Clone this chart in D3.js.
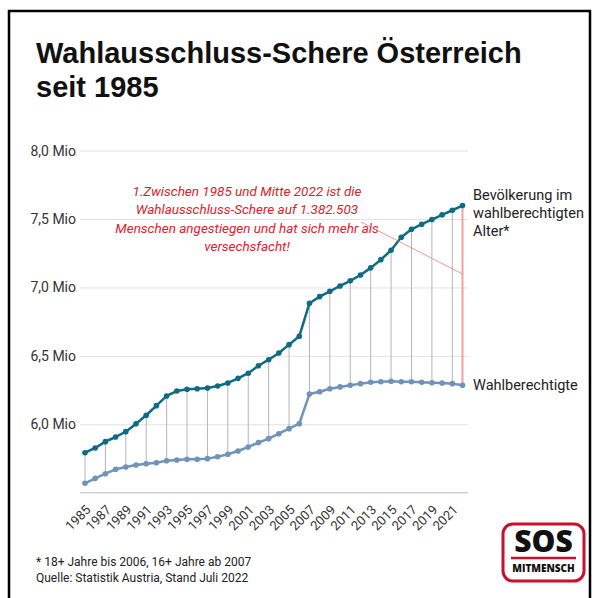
<!DOCTYPE html>
<html>
<head>
<meta charset="utf-8">
<script src="https://cdn.jsdelivr.net/npm/d3@7"></script>
<style>
  body { margin: 0; background: #fff; }
  text { font-family: Roboto, "Noto Sans", sans-serif; }
</style>
</head>
<body>
<div id="chart"></div>
<script>
// years 1985 - 2022
var years = d3.range(1985, 2023);

// Bevölkerung im wahlberechtigten Alter (Mio)
var population = [5.792, 5.827, 5.873, 5.907, 5.946, 6.004, 6.066, 6.136, 6.207, 6.243,
  6.256, 6.260, 6.265, 6.280, 6.302, 6.336, 6.373, 6.428, 6.472, 6.521,
  6.582, 6.643, 6.885, 6.933, 6.972, 7.011, 7.048, 7.091, 7.143, 7.203,
  7.272, 7.367, 7.425, 7.462, 7.496, 7.530, 7.564, 7.598];

// Wahlberechtigte (Mio)
var voters = [5.569, 5.605, 5.639, 5.671, 5.688, 5.702, 5.712, 5.719, 5.734, 5.739,
  5.744, 5.744, 5.749, 5.763, 5.781, 5.805, 5.834, 5.866, 5.895, 5.931,
  5.968, 6.004, 6.221, 6.238, 6.260, 6.273, 6.285, 6.297, 6.307, 6.311,
  6.314, 6.311, 6.311, 6.307, 6.304, 6.302, 6.297, 6.285];

var yTicks = [6.0, 6.5, 7.0, 7.5, 8.0];
var xTickYears = d3.range(1985, 2022, 2);

var annotationLines = [
  "1.Zwischen 1985 und Mitte 2022 ist die",
  "Wahlausschluss-Schere auf 1.382.503",
  "Menschen angestiegen und hat sich mehr als",
  "versechsfacht!"
];
var footnotes = [
  "* 18+ Jahre bis 2006, 16+ Jahre ab 2007",
  "Quelle: Statistik Austria, Stand Juli 2022"
];

var W = 595, H = 598;
var svg = d3.select("#chart").append("svg")
  .attr("width", W)
  .attr("height", H);

svg.append("rect").attr("width", W).attr("height", H).attr("fill", "#fff");

// frame
svg.append("path")
  .attr("d", "M9,598 V11 H590 V598")
  .attr("fill", "none")
  .attr("stroke", "#000")
  .attr("stroke-width", 2.5);

// title
var title = svg.append("text")
  .attr("x", 36)
  .attr("y", 63)
  .style("font-family", "'Liberation Sans', Arial, sans-serif")
  .style("font-weight", "bold")
  .style("font-size", "29px")
  .attr("fill", "#111");
title.append("tspan").attr("x", 36).text("Wahlausschluss-Schere Österreich");
title.append("tspan").attr("x", 36).attr("dy", 34).text("seit 1985");

// scales
var x = d3.scaleLinear().domain([1985, 2022]).range([85, 462.5]);
var y = d3.scaleLinear().domain([5.5, 8.0]).range([492.7, 150.6]);
var fmt = function (d) { return d3.format(".1f")(d).replace(".", ",") + " Mio"; };

// grid
var yAxis = svg.append("g")
  .attr("transform", "translate(80,0)")
  .call(d3.axisLeft(y).tickValues(yTicks).tickSize(-388).tickFormat(fmt));
yAxis.select(".domain").remove();
yAxis.selectAll(".tick line").attr("stroke", "#e2e2e2");
yAxis.selectAll(".tick text")
  .attr("x", -4)
  .attr("fill", "#333")
  .style("font-size", "14px");

// baseline
svg.append("line")
  .attr("x1", 80).attr("x2", 468)
  .attr("y1", y(5.5)).attr("y2", y(5.5))
  .attr("stroke", "#d0d0d0")
  .attr("stroke-width", 1.5);

// x labels
var xAxis = svg.append("g")
  .attr("transform", "translate(0," + y(5.5) + ")")
  .call(d3.axisBottom(x).tickValues(xTickYears).tickSize(0).tickFormat(d3.format("d")));
xAxis.select(".domain").remove();
xAxis.selectAll(".tick text")
  .attr("text-anchor", "end")
  .attr("fill", "#333")
  .style("font-size", "13px")
  .attr("dy", 0)
  .attr("y", 0)
  .attr("transform", "translate(6,18) rotate(-45)");

// connector lines (every 2 years)
svg.append("g")
  .selectAll("line")
  .data(xTickYears)
  .enter()
  .append("line")
  .attr("x1", function (d) { return x(d); })
  .attr("x2", function (d) { return x(d); })
  .attr("y1", function (d) { return y(population[d - 1985]); })
  .attr("y2", function (d) { return y(voters[d - 1985]); })
  .attr("stroke", "#b5b5b5")
  .attr("stroke-width", 1);

// red gap line 2022
var last = years.length - 1;
svg.append("line")
  .attr("x1", x(years[last])).attr("x2", x(years[last]))
  .attr("y1", y(population[last])).attr("y2", y(voters[last]))
  .attr("stroke", "#f2a0a0")
  .attr("stroke-width", 2);

// lines + dots
function drawSeries(values, color) {
  var line = d3.line()
    .x(function (d, i) { return x(years[i]); })
    .y(function (d) { return y(d); });
  svg.append("path")
    .datum(values)
    .attr("d", line)
    .attr("fill", "none")
    .attr("stroke", color)
    .attr("stroke-width", 2.5)
    .attr("stroke-linejoin", "round");
  svg.append("g")
    .selectAll("circle")
    .data(values)
    .enter()
    .append("circle")
    .attr("cx", function (d, i) { return x(years[i]); })
    .attr("cy", function (d) { return y(d); })
    .attr("r", 2.8)
    .attr("fill", color);
}
drawSeries(voters, "#6f93b9");
drawSeries(population, "#0f6b84");

// series labels
var popLabel = svg.append("text")
  .attr("x", 473)
  .attr("y", 200)
  .attr("fill", "#222")
  .style("font-size", "14.5px");
["Bevölkerung im", "wahlberechtigten", "Alter*"].forEach(function (t, i) {
  popLabel.append("tspan").attr("x", 473).attr("dy", i ? 18 : 0).text(t);
});
svg.append("text")
  .attr("x", 473)
  .attr("y", y(voters[last]) + 5)
  .attr("fill", "#222")
  .style("font-size", "14.5px")
  .text("Wahlberechtigte");

// annotation
var ann = svg.append("text")
  .attr("x", 247)
  .attr("y", 196)
  .attr("text-anchor", "middle")
  .attr("fill", "#e3202a")
  .style("font-style", "italic")
  .style("font-size", "13.5px");
annotationLines.forEach(function (t, i) {
  ann.append("tspan").attr("x", 247).attr("dy", i ? 18.3 : 0).text(t);
});
svg.append("line")
  .attr("x1", 361).attr("y1", 222)
  .attr("x2", x(2022)).attr("y2", 274)
  .attr("stroke", "#f07a7a")
  .attr("stroke-width", 0.8);

// footnotes
footnotes.forEach(function (t, i) {
  svg.append("text")
    .attr("x", 36)
    .attr("y", 566 + i * 16)
    .attr("fill", "#222")
    .style("font-size", "12px")
    .text(t);
});

// logo
var logo = svg.append("g");
logo.append("rect")
  .attr("x", 503).attr("y", 524)
  .attr("width", 81).attr("height", 57)
  .attr("rx", 10)
  .attr("fill", "#fff")
  .attr("stroke", "#c8102e")
  .attr("stroke-width", 3);
logo.append("text")
  .attr("x", 543.5).attr("y", 552)
  .attr("text-anchor", "middle")
  .style("font-family", "'Open Sans', sans-serif")
  .style("font-weight", "800")
  .style("font-size", "30px")
  .attr("fill", "#111")
  .text("SOS");
logo.append("line")
  .attr("x1", 511).attr("x2", 576)
  .attr("y1", 558).attr("y2", 558)
  .attr("stroke", "#c8102e")
  .attr("stroke-width", 2.5);
logo.append("text")
  .attr("x", 543.5).attr("y", 572)
  .attr("text-anchor", "middle")
  .style("font-family", "'Open Sans', sans-serif")
  .style("font-weight", "800")
  .style("font-size", "10px")
  .attr("fill", "#111")
  .text("MITMENSCH");
</script>
</body>
</html>
